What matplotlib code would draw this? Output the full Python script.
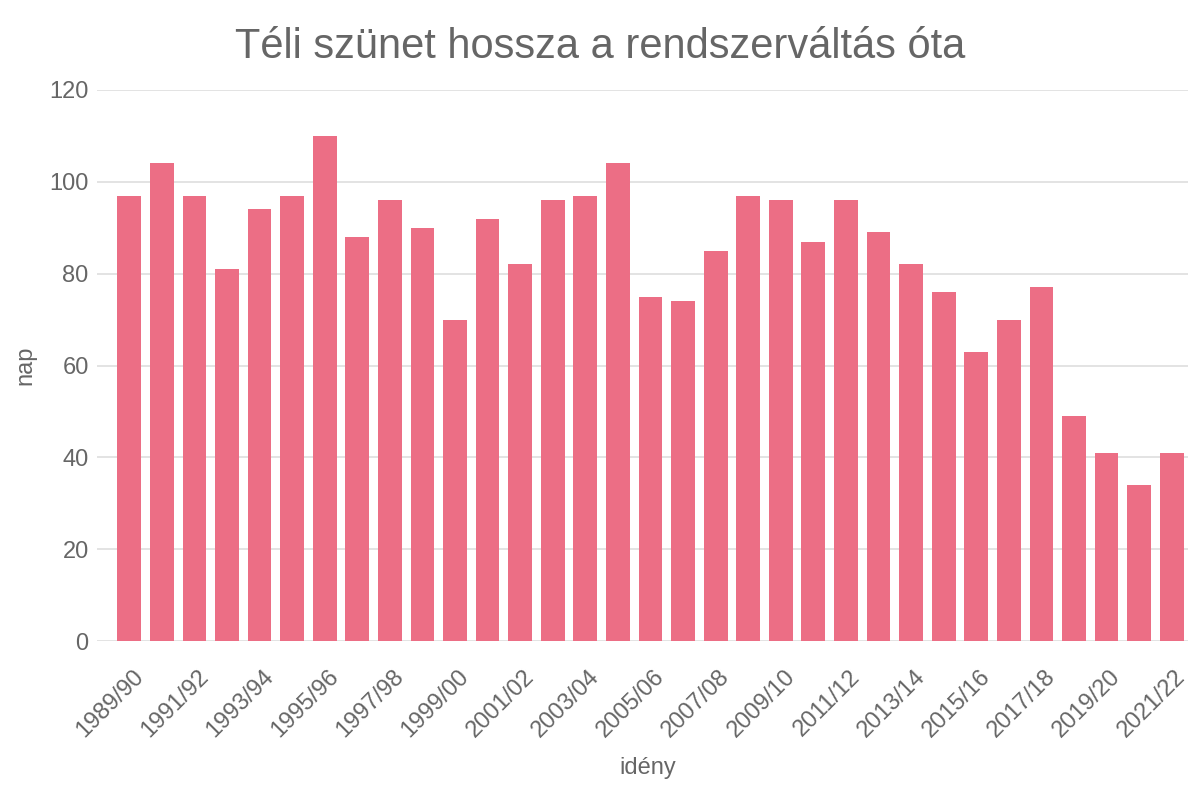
import matplotlib
matplotlib.use("Agg")
import matplotlib.pyplot as plt
import matplotlib.transforms as mtrans
import numpy as np

seasons = [f"{y}/{str(y + 1)[-2:]}" for y in range(1989, 2022)]
days = [97, 104, 97, 81, 94, 97, 110, 88, 96, 90, 70, 92, 82, 96, 97, 104,
        75, 74, 85, 97, 96, 87, 96, 89, 82, 76, 63, 70, 77, 49, 41, 34, 41]

plt.rcParams['font.family'] = ['Liberation Sans', 'DejaVu Sans']
txt = '#666666'

fig = plt.figure(figsize=(12, 8), dpi=100)
ax = fig.add_axes([97 / 1200, 1 - 641 / 800, (1188 - 97) / 1200, (641 - 90) / 800])

x = np.arange(len(days))
ax.bar(x, days, width=0.73, color='#ec6e85', zorder=3)

ax.set_ylim(0, 120)
ax.set_yticks(range(0, 121, 20))
ax.set_xlim(-0.99, len(days) - 0.5)
ax.set_xticks(x[::2])
ax.set_xticklabels(seasons[::2], rotation=45, ha='right', va='top',
                   rotation_mode='anchor')
ax.tick_params(axis='both', length=0, labelsize=17, colors=txt)
ax.tick_params(axis='x', pad=18)
ax.tick_params(axis='y', pad=6)
# nudge the rotated labels a little to the right, like the original
shift = mtrans.ScaledTranslation(3 / 100, 0, fig.dpi_scale_trans)
for lab in ax.get_xticklabels():
    lab.set_transform(lab.get_transform() + shift)
ax.grid(axis='y', color='#e0e0e0', linewidth=1.3, zorder=0)
for s in ax.spines.values():
    s.set_visible(False)

ax.set_ylabel('nap', fontsize=17, color=txt, labelpad=9)
fig.text(648 / 1200, 1 - 768 / 800, 'idény', ha='center', va='center', fontsize=17, color=txt)
fig.text(0.5, 1 - 47 / 800, 'Téli szünet hossza a rendszerváltás óta', ha='center',
         va='center', fontsize=30, color=txt)

fig.savefig('out.png', dpi=100)
